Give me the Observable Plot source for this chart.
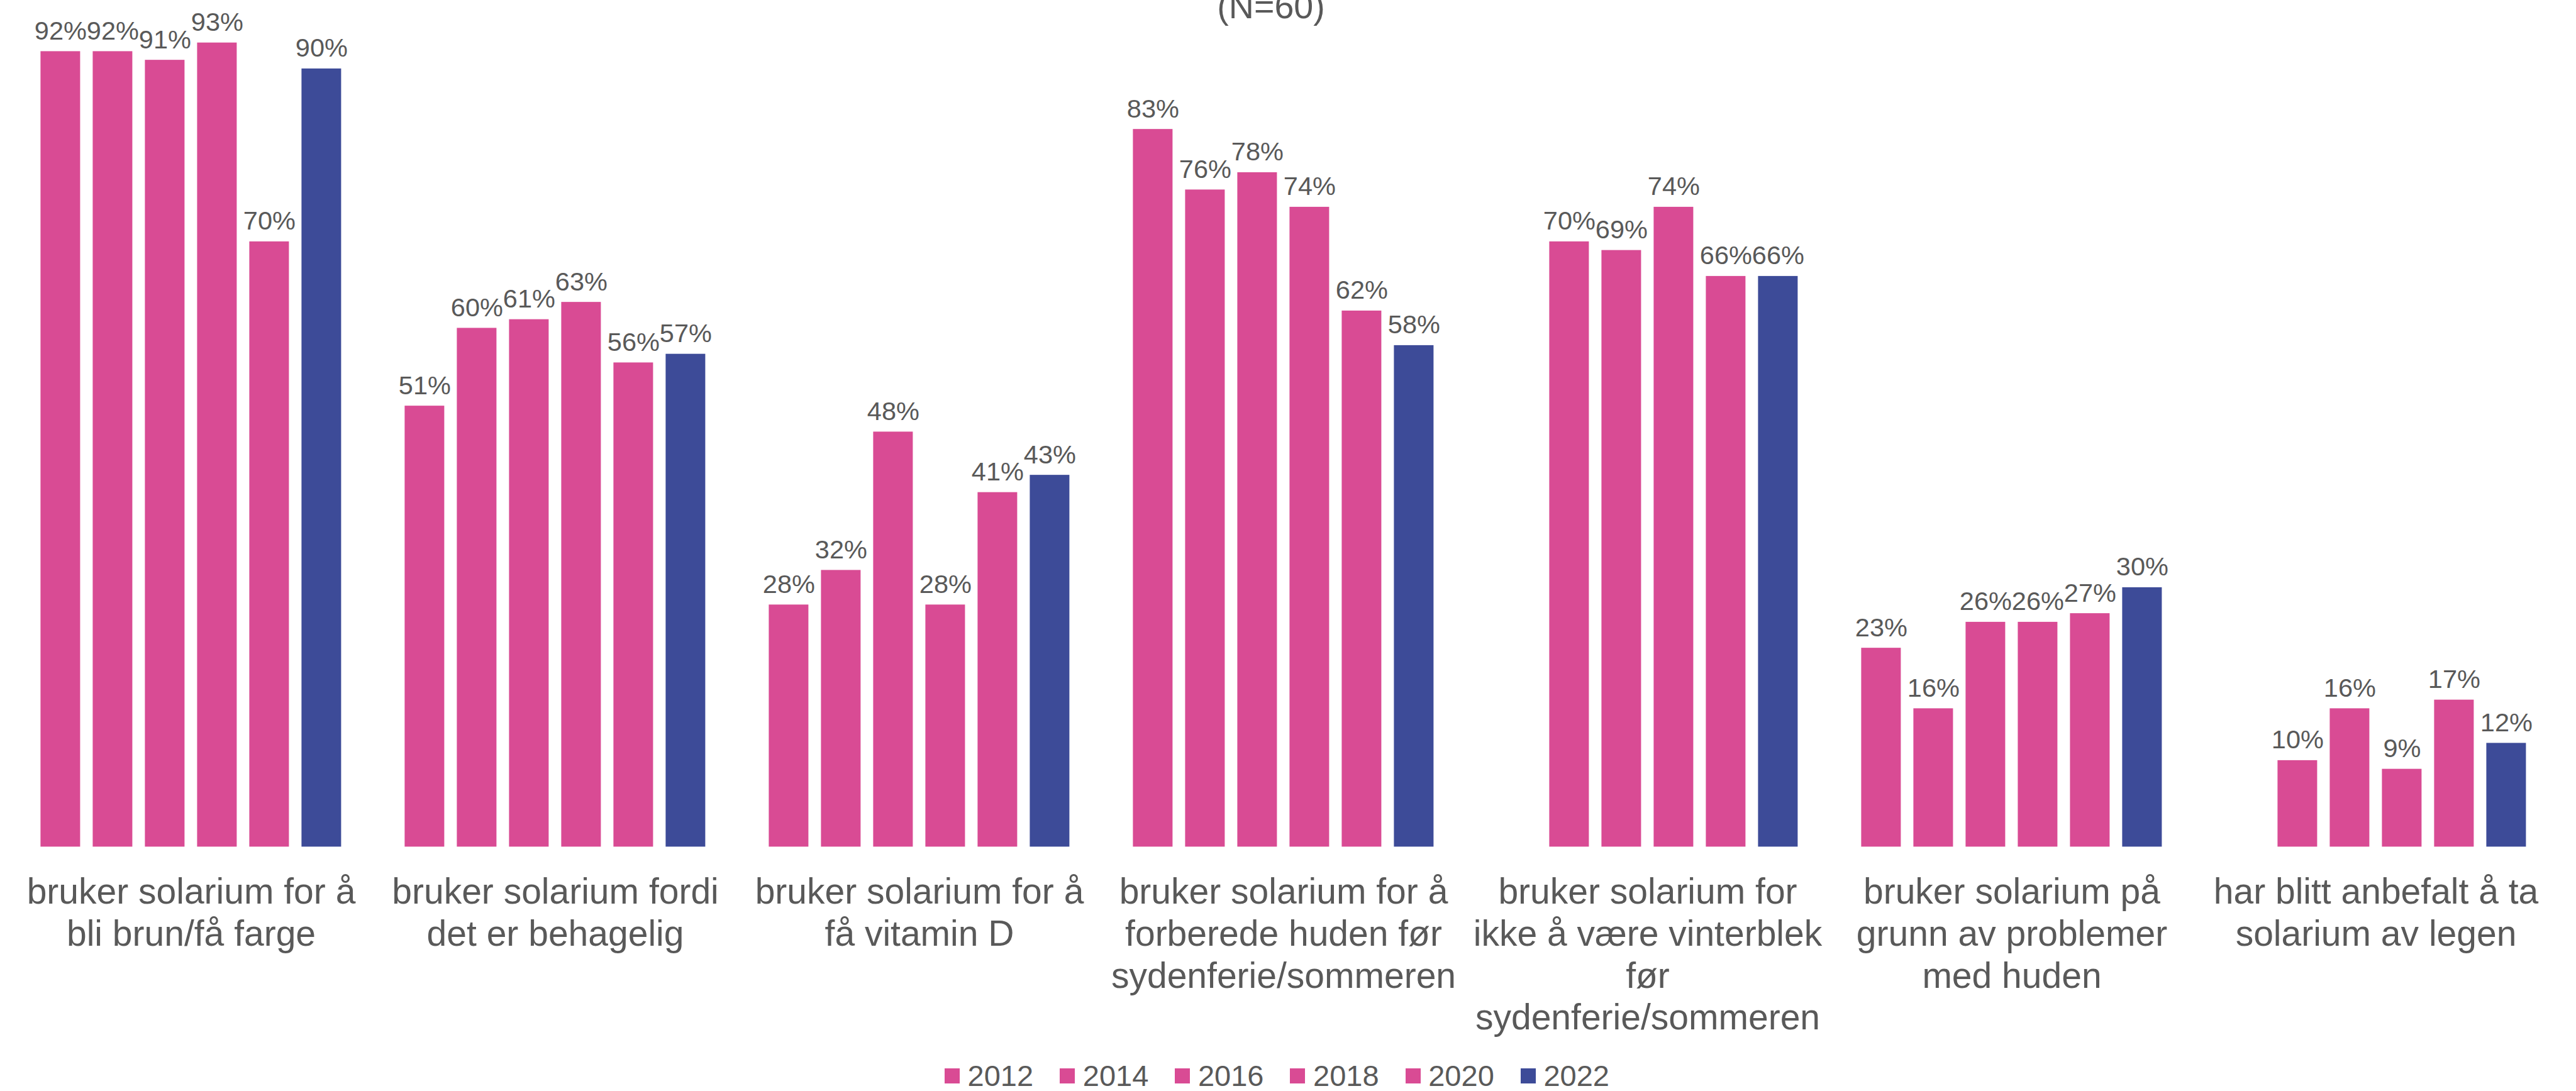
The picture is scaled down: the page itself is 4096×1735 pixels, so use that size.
<!DOCTYPE html>
<html>
<head>
<meta charset="utf-8">
<script src="https://cdn.jsdelivr.net/npm/d3@7"></script>
<script src="https://cdn.jsdelivr.net/npm/@observablehq/plot@0.6"></script>
<style>
  html, body { margin: 0; padding: 0; background: #fff; }
  #wrap { position: relative; width: 4096px; height: 1735px; overflow: hidden; font-family: "Liberation Sans", Arial, Helvetica, sans-serif; color: #595959; }
  #sub { position: absolute; left: 0; width: 4042px; top: -17px; text-align: center; font-size: 55.6px; line-height: 1; }
  #chart { position: absolute; left: 0; top: 0; }
  #legend { position: absolute; left: 1502px; top: 1690px; display: flex; align-items: center; font-size: 47px; line-height: 0.9; }
  .item { display: flex; align-items: center; margin-right: 42px; }
  .sw { width: 24px; height: 24px; margin-right: 12.6px; }
</style>
</head>
<body>
<div id="wrap">
  <div id="sub">(N=60)</div>
  <div id="chart"></div>
  <div id="legend"></div>
</div>
<script>
const categories = [
  "bruker solarium for å bli brun/få farge",
  "bruker solarium fordi det er behagelig",
  "bruker solarium for å få vitamin D",
  "bruker solarium for å forberede huden før sydenferie/sommeren",
  "bruker solarium for ikke å være vinterblek før sydenferie/sommeren",
  "bruker solarium på grunn av problemer med huden",
  "har blitt anbefalt å ta solarium av legen"
];
const categoryLabels = [
  "bruker solarium for å\nbli brun/få farge",
  "bruker solarium fordi\ndet er behagelig",
  "bruker solarium for å\nfå vitamin D",
  "bruker solarium for å\nforberede huden før\nsydenferie/sommeren",
  "bruker solarium for\nikke å være vinterblek\nfør\nsydenferie/sommeren",
  "bruker solarium på\ngrunn av problemer\nmed huden",
  "har blitt anbefalt å ta\nsolarium av legen"
];
const years = ["2012", "2014", "2016", "2018", "2020", "2022"];
const colors = ["#D94B94", "#D94B94", "#D94B94", "#D94B94", "#D94B94", "#3D4B98"];

const v2012 = [92, 51, 28, 83, null, 23, null];
const v2014 = [92, 60, 32, 76, 70, 16, 10];
const v2016 = [91, 61, 48, 78, 69, 26, 16];
const v2018 = [93, 63, 28, 74, 74, 26, 9];
const v2020 = [70, 56, 41, 62, 66, 27, 17];
const v2022 = [90, 57, 43, 58, 66, 30, 12];
const series = [v2012, v2014, v2016, v2018, v2020, v2022];

const rows = categories.flatMap((c, i) =>
  years.map((y, j) => ({category: c, year: y, value: series[j][i]}))
).filter(d => d.value != null);

const labelOf = new Map(categories.map((c, i) => [c, categoryLabels[i]]));

const W = 4096, H = 1655, baseY = 1346.4;
const chart = Plot.plot({
  width: W,
  height: H,
  marginTop: 0,
  marginBottom: H - baseY,
  marginLeft: 59.6,
  marginRight: 74.2,
  style: {fontFamily: '"Liberation Sans", Arial, Helvetica, sans-serif', color: "#595959", background: "transparent", overflow: "visible"},
  fx: {domain: categories, paddingInner: 0.165, paddingOuter: 0, label: null},
  x: {domain: years, paddingInner: 0.237, paddingOuter: 0, axis: null},
  y: {domain: [0, 97.92], axis: null},
  color: {domain: years, range: colors},
  marks: [
    Plot.barY(rows, {fx: "category", x: "year", y: "value", fill: "year"}),
    Plot.text(rows, {fx: "category", x: "year", y: "value", text: d => d.value + "%", dy: -19, lineAnchor: "bottom", fontSize: 41.5, fill: "#595959"}),
    Plot.axisFx({anchor: "bottom", tickSize: 0, tickPadding: 43, fontSize: 57, lineHeight: 1.17, tickFormat: d => labelOf.get(d), label: null, fill: "#595959"})
  ]
});
document.getElementById("chart").appendChild(chart);

const legend = document.getElementById("legend");
years.forEach((y, i) => {
  const item = document.createElement("div");
  item.className = "item";
  const sw = document.createElement("div");
  sw.className = "sw";
  sw.style.background = colors[i];
  const t = document.createElement("span");
  t.textContent = y;
  item.appendChild(sw);
  item.appendChild(t);
  legend.appendChild(item);
});
</script>
</body>
</html>
